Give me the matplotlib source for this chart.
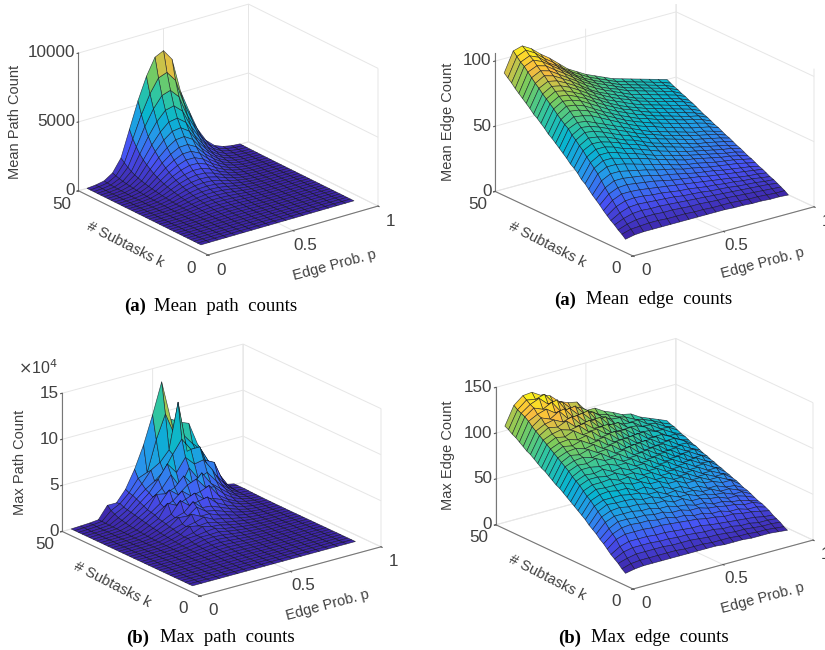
import numpy as np
import matplotlib
matplotlib.use('Agg')
import matplotlib.pyplot as plt
from matplotlib.colors import LinearSegmentedColormap, Normalize
from mpl_toolkits.mplot3d import proj3d

plt.rcParams['font.family'] = ['Liberation Sans', 'DejaVu Sans']

# Grid of the surfaces
edge_prob = [0.05, 0.10, 0.15, 0.20, 0.25, 0.30, 0.35, 0.40, 0.45, 0.50,
             0.55, 0.60, 0.65, 0.70, 0.75, 0.80, 0.85, 0.90, 0.95]
subtasks = [50, 48.67, 47.33, 46, 44.67, 43.33, 42, 40.67, 39.33, 38, 36.67, 35.33, 34,
            32.67, 31.33, 30, 28.67, 27.33, 26, 24.67, 23.33, 22, 20.67, 19.33, 18,
            16.67, 15.33, 14, 12.67, 11.33, 10, 8.67, 7.33, 6]

# One row per value of subtasks
mean_path = [
    [0, 60, 180, 580, 1500, 3400, 5300, 6900, 8100, 8400, 7600, 5100, 3500, 2000, 1000, 450, 200, 80, 30],
    [0, 50, 150, 490, 1270, 2830, 4420, 5750, 6720, 6950, 6200, 4350, 2900, 1640, 820, 370, 165, 65, 25],
    [0, 42, 125, 410, 1060, 2370, 3680, 4780, 5570, 5770, 5130, 3580, 2380, 1330, 670, 300, 135, 52, 20],
    [0, 35, 105, 345, 880, 1970, 3060, 3970, 4620, 4770, 4220, 2930, 1930, 1070, 540, 240, 105, 42, 15],
    [0, 30, 90, 290, 750, 1660, 2570, 3330, 3880, 3990, 3510, 2420, 1580, 870, 435, 190, 85, 33, 12],
    [0, 25, 78, 250, 650, 1430, 2220, 2870, 3330, 3420, 2990, 2060, 1330, 725, 360, 155, 68, 26, 9],
    [0, 21, 67, 215, 560, 1230, 1900, 2450, 2840, 2900, 2520, 1720, 1100, 590, 290, 125, 54, 20, 7],
    [0, 18, 58, 185, 480, 1050, 1630, 2090, 2420, 2450, 2110, 1430, 905, 480, 235, 100, 42, 15, 5],
    [0, 15, 50, 160, 420, 905, 1400, 1790, 2070, 2080, 1770, 1190, 745, 390, 188, 78, 33, 11, 4],
    [0, 13, 43, 137, 360, 780, 1200, 1530, 1750, 1740, 1470, 980, 605, 312, 148, 61, 25, 8, 3],
    [0, 11, 37, 118, 315, 670, 1030, 1310, 1480, 1460, 1220, 805, 490, 250, 117, 47, 19, 6, 2],
    [0, 9, 32, 102, 270, 575, 880, 1110, 1240, 1210, 1000, 655, 395, 198, 91, 36, 14, 4, 1],
    [0, 8, 27, 88, 235, 495, 755, 945, 1040, 1000, 820, 530, 315, 155, 70, 27, 10, 3, 0],
    [0, 7, 23, 76, 200, 425, 645, 800, 870, 830, 670, 430, 250, 122, 54, 20, 7, 2, 0],
    [0, 6, 20, 65, 172, 362, 550, 675, 725, 685, 545, 345, 198, 95, 41, 15, 5, 1, 0],
    [0, 5, 17, 55, 147, 307, 465, 570, 600, 560, 440, 275, 155, 73, 31, 11, 4, 1, 0],
    [0, 4, 14, 47, 125, 260, 392, 478, 495, 455, 352, 218, 120, 55, 23, 8, 3, 0, 0],
    [0, 3, 12, 40, 106, 220, 330, 400, 405, 368, 280, 170, 92, 41, 17, 6, 2, 0, 0],
    [0, 3, 10, 34, 90, 185, 277, 330, 330, 295, 220, 131, 70, 30, 12, 4, 1, 0, 0],
    [0, 2, 8, 28, 75, 153, 228, 265, 262, 230, 170, 100, 52, 22, 8, 3, 1, 0, 0],
    [0, 2, 7, 24, 62, 127, 187, 215, 208, 180, 130, 75, 38, 16, 6, 2, 0, 0, 0],
    [0, 2, 6, 19, 50, 102, 149, 170, 162, 137, 97, 55, 27, 11, 4, 1, 0, 0, 0],
    [0, 1, 5, 16, 41, 82, 119, 135, 126, 104, 72, 40, 19, 7, 2, 1, 0, 0, 0],
    [0, 1, 4, 13, 33, 65, 93, 105, 96, 77, 52, 28, 13, 5, 1, 0, 0, 0, 0],
    [0, 1, 3, 10, 26, 50, 72, 80, 72, 56, 37, 19, 9, 3, 1, 0, 0, 0, 0],
    [0, 1, 2, 8, 20, 38, 54, 60, 53, 40, 26, 13, 6, 2, 0, 0, 0, 0, 0],
    [0, 0, 2, 6, 15, 29, 41, 45, 39, 29, 18, 9, 4, 1, 0, 0, 0, 0, 0],
    [0, 0, 1, 4, 11, 21, 30, 33, 28, 20, 12, 6, 2, 1, 0, 0, 0, 0, 0],
    [0, 0, 1, 3, 8, 15, 22, 24, 20, 14, 8, 4, 1, 0, 0, 0, 0, 0, 0],
    [0, 0, 1, 2, 5, 10, 15, 16, 13, 9, 5, 2, 1, 0, 0, 0, 0, 0, 0],
    [0, 0, 0, 1, 3, 6, 9, 10, 8, 5, 3, 1, 0, 0, 0, 0, 0, 0, 0],
    [0, 0, 0, 1, 2, 4, 5, 6, 4, 3, 1, 1, 0, 0, 0, 0, 0, 0, 0],
    [0, 0, 0, 0, 1, 2, 3, 3, 2, 1, 1, 0, 0, 0, 0, 0, 0, 0, 0],
    [0, 0, 0, 0, 0, 1, 1, 1, 1, 0, 0, 0, 0, 0, 0, 0, 0, 0, 0],
]

mean_edge = [
    [89, 104, 106, 102, 96, 91, 85, 79, 75, 71, 68, 65, 62, 60, 58, 56, 54, 52, 50],
    [86.5, 101, 104, 100, 94, 89, 83, 78, 74, 70, 67, 64, 61, 59, 57, 55, 53, 51, 48.5],
    [84, 98, 101, 98, 92, 87.5, 82, 77, 72.5, 69, 66, 63, 60, 58, 56, 54, 52, 50, 47],
    [81, 96, 99, 96, 91, 86, 81, 76, 71.5, 68, 65, 62, 59, 57, 55, 53, 51, 49, 46],
    [78.5, 93, 96, 94, 89, 84.5, 79.5, 74.5, 70.5, 66.5, 63.5, 61, 58, 56, 54, 52, 50, 48, 44.5],
    [76, 90, 93.5, 91.5, 87, 82.5, 78, 73, 69, 65.5, 62.5, 59.5, 56.5, 54.5, 52.5, 50.5, 48.5, 46.5, 43.5],
    [73.5, 87, 91, 89, 85, 81, 76, 71, 67, 64, 61, 58, 55, 53, 51, 49, 47, 45, 42],
    [71, 84.5, 88, 86.5, 83, 79, 74.5, 70, 66, 62.5, 59.5, 57, 54, 52, 50, 48, 46, 44, 41],
    [68, 81.5, 85.5, 84, 81, 77, 72.5, 68, 64, 61, 58, 55, 52.5, 50.5, 48.5, 46.5, 44.5, 42.5, 39.5],
    [66, 79, 83, 81.5, 78.5, 75, 70.5, 66.5, 62.5, 59, 56, 53.5, 51, 49, 47, 45, 43, 41, 38],
    [63.5, 76.5, 80.5, 79.5, 76.5, 73, 68.5, 64.5, 61, 57.5, 55, 52, 49.5, 47.5, 45.5, 43.5, 41.5, 39.5, 36.5],
    [61, 74, 78, 77, 74.5, 70.5, 66.5, 62.5, 59, 56, 53, 50.5, 48, 46, 44, 42, 40, 38.5, 35.5],
    [58, 71, 75.5, 74.5, 72, 68, 64, 60.5, 57, 54, 51, 49, 46.5, 44.5, 42.5, 40.5, 39, 37, 34],
    [56, 68.5, 73, 72, 69.5, 66, 62, 58.5, 55, 52, 49.5, 47, 45, 43, 41, 39, 37.5, 35.5, 32.5],
    [53.5, 66, 70, 69, 67, 63.5, 60, 56.5, 53, 50, 47.5, 45.5, 43, 41, 39, 37, 35.5, 34, 31.5],
    [51, 64, 67, 66, 63, 60, 57, 54, 51, 48, 45, 43, 41, 39, 37, 35, 34, 32, 30],
    [48.5, 60.5, 64.5, 63.5, 61, 58, 55, 52, 49, 46, 44, 41.5, 39.5, 37.5, 35.5, 34, 32.5, 31, 28.5],
    [46, 58, 62, 61, 58.5, 55.5, 52.5, 50, 47, 44.5, 42, 40, 38, 36, 34, 32.5, 31, 29.5, 27.5],
    [43, 55, 59, 58, 56, 53, 50, 48, 45, 42, 40, 38, 36, 34, 32, 31, 29.5, 28, 26],
    [41, 52.5, 56, 55.5, 53.5, 51, 48, 46, 43, 40.5, 38.5, 36.5, 34.5, 32.5, 31, 29.5, 28, 26.5, 24.5],
    [38.5, 49, 53, 53, 51, 48, 46, 43.5, 41, 38.5, 36.5, 34.5, 32.5, 31, 29.5, 28, 26.5, 25.5, 23.5],
    [35, 46, 50, 50, 48, 45.5, 43.5, 41, 38.5, 36.5, 34.5, 32.5, 31, 29.5, 28, 26.5, 25, 24, 22],
    [33, 43, 47, 47, 45, 43, 41, 39, 36.5, 34.5, 32.5, 30.5, 29.5, 28, 26.5, 25, 24, 22.5, 20.5],
    [30, 40, 43.5, 43.5, 42, 40, 38, 36, 34, 32, 30, 28.5, 27.5, 26, 24.5, 23.5, 22.5, 21, 19.5],
    [27, 36, 39.5, 39.5, 38, 36.5, 35, 33, 31.5, 30, 28, 27, 25.5, 24, 23, 22, 21, 19.5, 18],
    [24.5, 32, 35.5, 35.5, 34.5, 33.5, 32, 30, 29, 27.5, 26, 24.5, 23.5, 22.5, 21, 20, 19, 18, 16.5],
    [22, 28.5, 31.5, 32, 31, 30, 29, 27.5, 26, 25, 24, 23, 21.5, 20.5, 19.5, 18.5, 17.5, 16.5, 15.5],
    [19, 25, 28, 28, 27.5, 26.5, 25.5, 24.5, 23.5, 22.5, 21.5, 20.5, 19.5, 18.5, 17.5, 16.5, 15.5, 15, 14],
    [16.5, 21.5, 24, 24.5, 24, 23, 22.5, 21.5, 20.5, 20, 19, 18, 17.5, 16.5, 16, 15, 14.5, 13.5, 12.5],
    [14, 18, 20.5, 21, 20.5, 20, 19.5, 19, 18, 17.5, 17, 16, 15.5, 15, 14, 13.5, 13, 12, 11.5],
    [12, 15, 17, 17.5, 17, 17, 16.5, 16, 15.5, 15, 14.5, 14, 13.5, 13, 12.5, 12, 11.5, 11, 10],
    [9.5, 12, 13.5, 14, 14, 13.5, 13.5, 13, 12.5, 12.5, 12, 11.5, 11.5, 11, 10.5, 10, 9.5, 9, 8.5],
    [7.5, 9.5, 10, 10.5, 10.5, 10, 10, 10, 9.5, 9.5, 9, 9, 9, 8.5, 8, 8, 7.5, 7, 7],
    [5, 6.5, 7, 7, 7, 7, 7, 7, 7, 7, 7, 7, 6.5, 6.5, 6, 6, 5.5, 5.5, 5],
]

# In units of 10^4
max_path = [
    [0, .05, .1, .2, 1.5, 1.5, 2.7, 4.6, 7.0, 10.0, 13.3, 9.0, 8.4, 8.0, 5.4, 3.5, 2.4, .3, .1],
    [0, .04, .1, .2, 1.1, 1.6, 2.5, 3.8, 4.2, 7.5, 10.0, 7.5, 7.2, 6.0, 5.0, 3.2, 1.8, .3, .1],
    [0, .04, .09, .18, .9, 1.4, 2.4, 3.4, 4.6, 5.2, 6.3, 11.2, 5.6, 5.4, 4.1, 3.6, 1.2, .25, .1],
    [0, .03, .08, .16, .7, 1.3, 2.2, 3.0, 3.6, 4.4, 6.0, 7.4, 6.0, 6.0, 3.2, 2.2, .9, .2, .1],
    [0, .03, .07, .15, .6, 1.2, 2.0, 2.8, 4.0, 5.4, 4.2, 5.6, 4.6, 4.8, 3.4, 1.6, .7, .15, .08],
    [0, .03, .07, .14, .5, 1.1, 1.8, 2.5, 3.2, 4.4, 2.8, 4.6, 3.2, 3.6, 2.4, 1.3, .5, .12, .06],
    [0, .02, .06, .12, .4, 1.0, 1.6, 3.0, 2.8, 3.2, 4.2, 3.0, 4.0, 2.6, 1.8, 1.0, .4, .1, .05],
    [0, .02, .05, .1, .35, .9, 1.5, 2.2, 3.4, 2.6, 3.4, 3.8, 2.6, 2.4, 1.4, .7, .3, .08, .04],
    [0, .02, .05, .1, .3, .8, 1.4, 2.0, 2.4, 3.2, 2.4, 2.6, 3.0, 1.7, 1.0, .5, .22, .07, .03],
    [0, .02, .04, .08, .25, .7, 1.2, 2.6, 2.1, 2.5, 2.9, 2.0, 1.8, 1.4, .8, .4, .16, .05, .02],
    [0, .01, .04, .07, .22, .6, 1.1, 1.6, 2.8, 2.0, 2.2, 2.4, 1.5, 1.0, .6, .3, .12, .04, .02],
    [0, .01, .03, .06, .18, .55, 1.0, 1.4, 1.7, 2.6, 1.7, 1.6, 1.2, .8, .45, .2, .09, .03, .01],
    [0, .01, .03, .06, .15, .45, .85, 1.6, 1.5, 2.2, 1.5, 1.3, .95, .6, .35, .15, .06, .02, .01],
    [0, .01, .03, .05, .13, .4, .8, 1.1, 1.9, 1.4, 1.4, 1.0, .75, .45, .25, .12, .05, .02, .01],
    [0, .01, .02, .05, .12, .35, .65, 1.0, 1.2, 1.5, 1.0, .8, .55, .35, .18, .09, .04, .01, 0],
    [0, .01, .02, .04, .1, .3, .6, 1.2, 1.0, 1.1, .85, .6, .42, .25, .13, .06, .03, .01, 0],
    [0, .01, .02, .04, .09, .25, .5, .7, 1.1, .85, .75, .5, .32, .18, .09, .05, .02, .01, 0],
    [0, .01, .02, .03, .08, .2, .55, .6, .75, .85, .55, .4, .24, .13, .07, .03, .01, 0, 0],
    [0, 0, .01, .03, .07, .18, .35, .6, .6, .65, .45, .3, .18, .1, .05, .02, .01, 0, 0],
    [0, 0, .01, .02, .06, .15, .3, .5, .55, .48, .35, .22, .13, .07, .03, .02, .01, 0, 0],
    [0, 0, .01, .02, .05, .12, .25, .38, .45, .38, .27, .16, .09, .05, .02, .01, 0, 0, 0],
    [0, 0, .01, .02, .04, .1, .2, .3, .34, .28, .2, .12, .07, .03, .01, .01, 0, 0, 0],
    [0, 0, .01, .01, .03, .08, .15, .24, .26, .22, .15, .09, .05, .02, .01, 0, 0, 0, 0],
    [0, 0, 0, .01, .03, .06, .12, .18, .2, .16, .11, .06, .03, .01, .01, 0, 0, 0, 0],
    [0, 0, 0, .01, .02, .05, .09, .14, .15, .12, .08, .04, .02, .01, 0, 0, 0, 0, 0],
    [0, 0, 0, .01, .02, .04, .07, .1, .11, .08, .05, .03, .01, .01, 0, 0, 0, 0, 0],
    [0, 0, 0, 0, .01, .03, .05, .07, .07, .06, .04, .02, .01, 0, 0, 0, 0, 0, 0],
    [0, 0, 0, 0, .01, .02, .03, .05, .05, .04, .02, .01, .01, 0, 0, 0, 0, 0, 0],
    [0, 0, 0, 0, .01, .01, .02, .03, .03, .02, .01, .01, 0, 0, 0, 0, 0, 0, 0],
    [0, 0, 0, 0, 0, .01, .02, .02, .02, .01, .01, 0, 0, 0, 0, 0, 0, 0, 0],
    [0, 0, 0, 0, 0, .01, .01, .01, .01, .01, 0, 0, 0, 0, 0, 0, 0, 0, 0],
    [0, 0, 0, 0, 0, 0, .01, .01, .01, 0, 0, 0, 0, 0, 0, 0, 0, 0, 0],
    [0, 0, 0, 0, 0, 0, 0, 0, 0, 0, 0, 0, 0, 0, 0, 0, 0, 0, 0],
    [0, 0, 0, 0, 0, 0, 0, 0, 0, 0, 0, 0, 0, 0, 0, 0, 0, 0, 0],
]

max_edge = [
    [105, 125, 133, 134, 128, 125, 116, 112, 110, 98, 98, 92, 88, 83, 81, 75, 71, 67, 63],
    [103, 122, 130, 128, 131, 119, 117, 107, 106, 99, 93, 90, 85, 82, 77, 74, 70, 65, 61],
    [100, 120, 127, 131, 122, 124, 110, 112, 101, 100, 92, 87, 86, 78, 78, 71, 69, 63, 60],
    [98, 118, 125, 121, 126, 113, 114, 104, 106, 93, 94, 84, 81, 80, 73, 72, 65, 64, 58],
    [95, 115, 120, 123, 116, 118, 106, 108, 98, 98, 87, 87, 79, 78, 74, 67, 66, 60, 56],
    [92, 111, 118, 114, 120, 109, 110, 100, 100, 90, 90, 81, 81, 73, 72, 68, 61, 60, 55],
    [89, 108, 113, 115, 110, 113, 102, 104, 94, 94, 84, 83, 75, 75, 67, 67, 62, 56, 53],
    [87, 105, 111, 109, 113, 104, 105, 97, 96, 87, 86, 77, 78, 70, 69, 62, 62, 57, 51],
    [84, 102, 106, 108, 105, 107, 98, 98, 90, 90, 80, 80, 71, 71, 64, 64, 57, 56, 50],
    [81, 99, 104, 102, 106, 99, 100, 91, 92, 83, 82, 74, 74, 66, 65, 59, 58, 52, 48],
    [78, 96, 100, 101, 98, 100, 92, 93, 85, 85, 76, 76, 68, 68, 60, 60, 54, 53, 46],
    [76, 93, 98, 96, 99, 93, 94, 86, 87, 78, 79, 70, 70, 63, 62, 55, 55, 49, 45],
    [73, 90, 94, 95, 92, 94, 87, 88, 80, 81, 72, 72, 65, 64, 57, 57, 50, 50, 43],
    [70, 87, 92, 90, 93, 87, 88, 81, 82, 74, 74, 66, 66, 59, 59, 52, 52, 46, 42],
    [67, 84, 88, 89, 86, 88, 81, 82, 75, 75, 68, 68, 61, 60, 54, 54, 48, 47, 40],
    [65, 81, 85, 84, 87, 82, 82, 76, 76, 69, 69, 62, 62, 55, 55, 49, 49, 43, 39],
    [62, 77, 82, 82, 80, 80, 76, 76, 70, 70, 63, 63, 56, 56, 50, 50, 44, 44, 37],
    [59, 74, 78, 77, 79, 74, 75, 70, 70, 64, 64, 58, 57, 51, 51, 45, 45, 40, 36],
    [56, 71, 75, 75, 73, 74, 69, 69, 64, 64, 58, 58, 52, 52, 46, 46, 41, 41, 34],
    [53, 67, 71, 71, 72, 68, 69, 63, 64, 58, 58, 53, 53, 47, 47, 42, 42, 37, 33],
    [50, 63, 68, 67, 67, 67, 63, 63, 58, 58, 53, 53, 48, 48, 43, 42, 38, 38, 31],
    [47, 60, 64, 65, 63, 63, 58, 59, 54, 54, 49, 49, 44, 44, 39, 39, 35, 34, 29],
    [44, 56, 60, 60, 60, 58, 57, 53, 53, 48, 49, 44, 44, 40, 40, 35, 35, 31, 28],
    [40, 52, 57, 56, 56, 55, 52, 52, 48, 48, 44, 44, 40, 39, 36, 35, 31, 31, 26],
    [37, 48, 52, 53, 51, 51, 49, 47, 47, 43, 44, 39, 39, 36, 35, 31, 31, 28, 24],
    [34, 44, 48, 48, 48, 46, 46, 43, 43, 40, 39, 36, 36, 32, 32, 29, 28, 25, 22],
    [30, 39, 44, 44, 43, 43, 41, 41, 38, 38, 35, 35, 32, 31, 29, 28, 25, 25, 21],
    [27, 35, 39, 40, 39, 39, 37, 37, 34, 34, 31, 31, 28, 28, 25, 25, 22, 22, 19],
    [23, 31, 34, 34, 34, 33, 33, 32, 31, 30, 29, 27, 26, 24, 24, 22, 21, 19, 17],
    [19, 25, 28, 28, 28, 27, 27, 26, 25, 24, 24, 22, 21, 20, 19, 18, 17, 15, 14],
    [16, 21, 23, 23, 23, 22, 22, 21, 21, 20, 19, 19, 17, 17, 15, 15, 13, 13, 12],
    [13, 16, 18, 18, 18, 18, 17, 17, 17, 16, 15, 15, 14, 13, 13, 12, 11, 11, 10],
    [9, 12, 13, 13, 13, 13, 13, 12, 12, 12, 11, 11, 11, 10, 10, 9, 9, 8, 7],
    [6, 8, 9, 9, 9, 9, 9, 9, 9, 9, 9, 8, 8, 8, 7, 7, 7, 6, 5],
]

# Parula colormap of MATLAB
parula = LinearSegmentedColormap.from_list('parula', [
    (0.00, (0.2422, 0.1504, 0.6603)),
    (0.14, (0.2810, 0.3228, 0.9579)),
    (0.29, (0.1540, 0.5902, 0.9218)),
    (0.43, (0.0297, 0.7082, 0.8163)),
    (0.57, (0.1938, 0.7758, 0.6251)),
    (0.71, (0.5044, 0.7993, 0.3480)),
    (0.86, (0.9871, 0.7348, 0.2438)),
    (1.00, (0.9769, 0.9839, 0.0805)),
])

W, H = 825, 650
TEXT = '#404040'
fig = plt.figure(figsize=(W / 100, H / 100), dpi=100)


def put_text(x, y, s, **kw):
    # x and y are picture pixels, counted from the top left
    fig.text(x / W, 1 - y / H, s, ha='center', va='center', color=kw.pop('color', TEXT), **kw)


def axes_fraction(ax, x, y, z):
    px, py, _ = proj3d.proj_transform(x, y, z, ax.get_proj())
    return ax.transAxes.inverted().transform(ax.transData.transform((px, py)))


def draw_panel(rows, zmax, zticks, zticklabels, elev, aspect, front, right):
    ax = fig.add_axes([0.1, 0.1, 0.5, 0.5 * W / H], projection='3d', proj_type='ortho')
    ax.view_init(elev=elev, azim=-127.3)
    ax.set_box_aspect((1, 1, aspect))
    ax.set_xlim(0, 1)
    ax.set_ylim(0, 50)
    ax.set_zlim(0, zmax)
    ax.patch.set_alpha(0)

    # Rows are typed from k = 50 down, MATLAB colours a cell by its lowest corner
    P, K = np.meshgrid(edge_prob, subtasks[::-1])
    Z = np.array(rows, dtype=float)[::-1]
    colors = parula(Normalize(Z.min(), Z.max())(Z))
    surf = ax.plot_surface(P, K, Z, facecolors=colors, rstride=1, cstride=1, shade=False, linewidth=0.45)
    surf.set_edgecolor((0.05, 0.05, 0.1, 0.75))

    ax.set_xticks([0, 0.5, 1])
    ax.set_xticklabels(['0', '0.5', '1'])
    ax.set_yticks([0, 50])
    ax.set_yticklabels(['0', '50'])
    ax.set_zticks(zticks)
    ax.set_zticklabels(zticklabels)
    ax.tick_params(axis='x', labelsize=12.3, labelcolor=TEXT, pad=4, color='#555555')
    ax.tick_params(axis='y', labelsize=12.3, labelcolor=TEXT, pad=4, color='#555555')
    ax.tick_params(axis='z', labelsize=12.3, labelcolor=TEXT, pad=-6.5, color='#555555')
    plt.setp(ax.get_xticklabels(), ha='center', va='baseline')
    plt.setp(ax.get_yticklabels(), ha='center', va='baseline')
    plt.setp(ax.get_zticklabels(), ha='right', va='center')
    for axis in (ax.xaxis, ax.yaxis, ax.zaxis):
        axis.set_pane_color((1, 1, 1, 0))
        axis.pane.set_edgecolor('#e2e2e2')
        axis.pane.set_linewidth(0.7)
        axis.line.set_color('#777777')
        axis.line.set_linewidth(0.8)
        axis._axinfo['grid'].update(color='#e6e6e6', linewidth=0.7)
        axis._axinfo['tick'].update(inward_factor=0.1, outward_factor=0.0)

    # Fit the axes so that the floor corners land where they are in the picture
    fig.canvas.draw()
    uf, vf = axes_fraction(ax, 0, 0, 0)
    ur, vr = axes_fraction(ax, 1, 0, 0)
    side = (right[0] - front[0]) / (ur - uf)
    left = front[0] - side * uf
    bottom = (H - front[1]) - side * vf
    ax.set_position([left / W, bottom / H, side / W, side / H])
    return ax


draw_panel(mean_path, 10000, [0, 5000, 10000], ['0', '5000', '10000'], 22.2, 0.696, (208, 255), (378, 206))
draw_panel(mean_edge, 106, [0, 50, 100], ['0', '50', '100'], 20.9, 0.65, (633, 256), (814, 207))
draw_panel(max_path, 15, [0, 5, 10, 15], ['0', '5', '10', '15'], 20.9, 0.65, (200, 596), (381, 547))
draw_panel(max_edge, 150, [0, 50, 100, 150], ['0', '50', '100', '150'], 20.9, 0.65, (633, 589), (813, 540))

# Axis labels
put_text(15, 122, 'Mean Path Count', rotation=90, fontsize=10.5)
put_text(125, 245, '# Subtasks k', rotation=-27, fontsize=10.5)
put_text(335, 265, 'Edge Prob. p', rotation=15, fontsize=10.5)

put_text(448, 122, 'Mean Edge Count', rotation=90, fontsize=10.5)
put_text(547, 245, '# Subtasks k', rotation=-27, fontsize=10.5)
put_text(763, 263, 'Edge Prob. p', rotation=15, fontsize=10.5)

put_text(20, 462, 'Max Path Count', rotation=90, fontsize=10.5)
put_text(112, 585, '# Subtasks k', rotation=-27, fontsize=10.5)
put_text(328, 605, 'Edge Prob. p', rotation=15, fontsize=10.5)
put_text(38, 368, r'$\times$10$^4$', fontsize=11.5, math_fontfamily='dejavusans')

put_text(448, 455, 'Max Edge Count', rotation=90, fontsize=10.5)
put_text(547, 578, '# Subtasks k', rotation=-27, fontsize=10.5)
put_text(763, 598, 'Edge Prob. p', rotation=15, fontsize=10.5)

# Captions
caption = dict(family='Liberation Serif', fontsize=13.5, color='black')
bold = dict(family='Liberation Serif', fontsize=13.5, color='black', fontweight='bold')
put_text(135, 306, '(a)', **bold)
put_text(226, 306, 'Mean  path  counts', **caption)
put_text(565, 300, '(a)', **bold)
put_text(659, 300, 'Mean  edge  counts', **caption)
put_text(138, 638, '(b)', **bold)
put_text(227, 638, 'Max  path  counts', **caption)
put_text(570, 638, '(b)', **bold)
put_text(660, 638, 'Max  edge  counts', **caption)

fig.savefig('out.png', dpi=100)
